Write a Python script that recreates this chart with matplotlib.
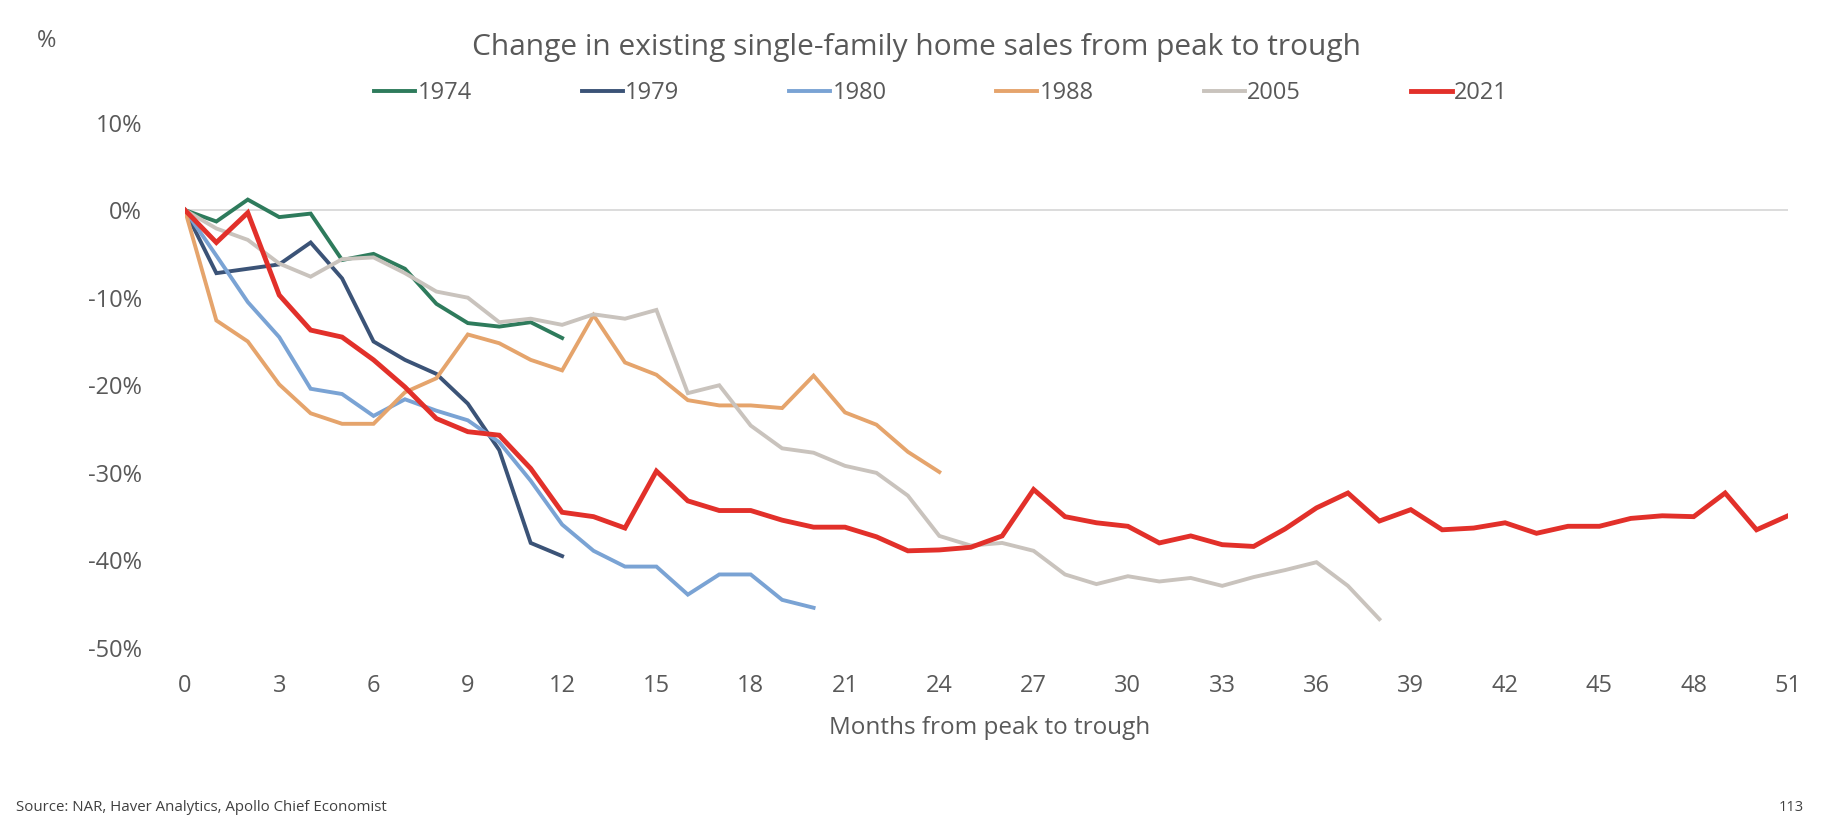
import matplotlib
matplotlib.use("Agg")
import matplotlib.pyplot as plt
import matplotlib.ticker as ticker

plt.rcParams['font.family'] = ['Open Sans', 'DejaVu Sans']

GREY_TEXT = '#595959'

# Change in sales (%) by month from peak, one list per cycle.
s1974 = [0, -1.3, 1.2, -0.8, -0.4, -5.7, -5.0, -6.7, -10.7, -12.9, -13.3,
         -12.8, -14.6]
s1979 = [0, -7.2, -6.7, -6.2, -3.7, -7.8, -15.0, -17.1, -18.7, -22.1, -27.4,
         -38.0, -39.5]
s1980 = [0, -5.2, -10.5, -14.5, -20.4, -21.0, -23.5, -21.6, -22.9, -24.0,
         -26.5, -30.9, -35.9, -38.9, -40.7, -40.7, -43.9, -41.6, -41.6, -44.5,
         -45.4]
s1988 = [0, -12.6, -15.0, -19.9, -23.2, -24.4, -24.4, -20.8, -19.2, -14.2,
         -15.2, -17.1, -18.3, -12.0, -17.4, -18.8, -21.7, -22.3, -22.3, -22.6,
         -18.9, -23.1, -24.5, -27.6, -29.9]
s2005 = [0, -2.1, -3.4, -6.1, -7.6, -5.6, -5.4, -7.2, -9.3, -10.0,
         -12.8, -12.4, -13.1, -11.9, -12.4, -11.4, -20.9, -20.0, -24.6, -27.2,
         -27.7, -29.2, -30.0, -32.6, -37.2, -38.3, -38.0, -38.9, -41.6, -42.7,
         -41.8, -42.4, -42.0, -42.9, -41.9, -41.1, -40.2, -42.9, -46.7]
s2021 = [0, -3.7, -0.3, -9.7, -13.7, -14.5, -17.1, -20.2, -23.8, -25.3,
         -25.7, -29.5, -34.5, -35.0, -36.3, -29.8, -33.2, -34.3, -34.3, -35.4,
         -36.2, -36.2, -37.3, -38.9, -38.8, -38.5, -37.2, -31.9, -35.0, -35.7,
         -36.1, -38.0, -37.2, -38.2, -38.4, -36.4, -34.0, -32.3, -35.5, -34.2,
         -36.5, -36.3, -35.7, -36.9, -36.1, -36.1, -35.2, -34.9, -35.0, -32.3,
         -36.5, -34.9]

series = [
    ('1974', s1974, '#2e7b5c', 2.8),
    ('1979', s1979, '#3b5377', 2.8),
    ('1980', s1980, '#7aa3d4', 2.8),
    ('1988', s1988, '#e5a46c', 2.8),
    ('2005', s2005, '#c9c3bd', 2.8),
    ('2021', s2021, '#e2302a', 3.5),
]

x_ticks = list(range(0, 52, 3))
y_ticks = [10, 0, -10, -20, -30, -40, -50]

fig = plt.figure(figsize=(18.31, 8.25), dpi=100)
ax = fig.add_axes([0.101, 0.2145, 0.8755, 0.637])

ax.axhline(0, color='#d9d9d9', lw=1.3, zorder=1)
for name, vals, color, lw in series:
    ax.plot(range(len(vals)), vals, color=color, lw=lw, label=name,
            solid_joinstyle='miter', zorder=3)

ax.set_xlim(0, 51)
ax.set_ylim(-50, 10)
ax.set_xticks(x_ticks)
ax.set_yticks(y_ticks)
ax.yaxis.set_major_formatter(ticker.FuncFormatter(lambda v, p: f'{v:.0f}%'))
ax.tick_params(length=0, labelsize=17, colors=GREY_TEXT)
ax.tick_params(axis='x', pad=19)
ax.tick_params(axis='y', pad=31)
for sp in ax.spines.values():
    sp.set_visible(False)

fig.text(0.5003, 0.943, 'Change in existing single-family home sales from peak to trough',
         ha='center', va='center', fontsize=21.5, color=GREY_TEXT)
fig.text(0.0257, 0.950, '%', ha='center', va='center', fontsize=17, color=GREY_TEXT)
fig.text(0.5407, 0.1176, 'Months from peak to trough', ha='center', va='center',
         fontsize=17.5, color=GREY_TEXT)

fig.legend(loc='center', bbox_to_anchor=(0.514, 0.887), ncol=6, frameon=False,
           fontsize=17, handlelength=1.74, handletextpad=0.1, columnspacing=4.65,
           labelcolor=GREY_TEXT)

fig.text(0.009, 0.021, 'Source: NAR, Haver Analytics, Apollo Chief Economist',
         ha='left', va='center', fontsize=10.8, color='#404040')
fig.text(0.985, 0.021, '113', ha='right', va='center', fontsize=10.5, color='#404040')

fig.savefig('out.png', dpi=100)
